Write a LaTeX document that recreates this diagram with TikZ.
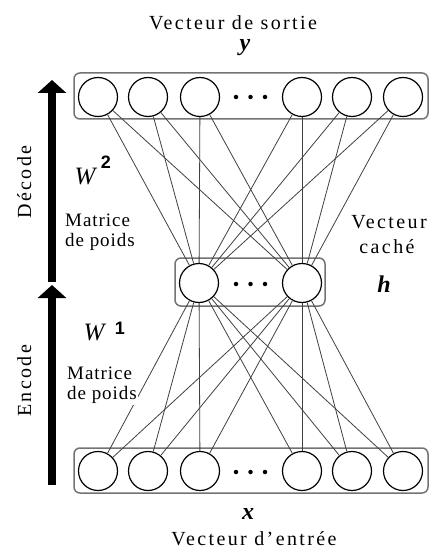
\documentclass[tikz,border=0pt]{standalone}
\usepackage{fontspec}
\setmainfont{Liberation Serif}
\newfontfamily\lsfont[LetterSpace=12]{Liberation Serif}
\newfontfamily\mlsfont[LetterSpace=5]{Liberation Serif}
\newfontfamily\supfont{Liberation Sans}
\usetikzlibrary{arrows.meta}
\begin{document}
\begin{tikzpicture}[x=1pt,y=-1pt,
  neuron/.style={circle,draw=black,line width=1.2pt,minimum size=39pt,inner sep=0pt,fill=white},
  layerbox/.style={draw=black!55,line width=1.5pt,rounded corners=6pt,inner sep=0pt},
  conn/.style={draw=black!75,line width=0.8pt},
  dotc/.style={circle,fill=black,inner sep=0pt,minimum size=4.5pt},
  bigarrow/.style={line width=8pt,-{Triangle[width=28pt,length=13pt]}},
  spaced/.style={font=\fontsize{20}{24}\lsfont,inner sep=0.5pt,fill=white},
  matlbl/.style={font=\fontsize{19}{20}\mlsfont,inner sep=1pt,fill=white,align=left,anchor=north west},
  vecsym/.style={font=\fontsize{24}{28}\bfseries\itshape,inner sep=0pt,anchor=base},
  wlbl/.style={font=\fontsize{25}{30}\itshape,inner sep=1pt,fill=white,anchor=base},
  suplbl/.style={font=\fontsize{18}{20}\supfont\bfseries,inner sep=0.5pt,anchor=base}
]
\useasboundingbox (0,0) rectangle (432,548);

% layer boxes
\node[layerbox,minimum width=354pt,minimum height=46pt] (topbox) at (251,96) {};
\node[layerbox,minimum width=150pt,minimum height=48pt] (hidbox) at (250,282) {};
\node[layerbox,minimum width=354pt,minimum height=45pt] (botbox) at (251,470.5) {};

% neurons
\foreach \i/\x in {1/98,2/148,3/200,4/302,5/352,6/403} {
  \node[neuron] (t\i) at (\x,97) {};
  \node[neuron] (b\i) at (\x,471) {};
}
\node[neuron] (h1) at (199,283) {};
\node[neuron] (h2) at (302,283) {};

% connections
\foreach \i in {1,...,6} {
  \foreach \j in {1,2} {
    \draw[conn] (t\i) -- (h\j);
    \draw[conn] (h\j) -- (b\i);
  }
}

% dots
\foreach \y/\n in {97/t,284/h,472/b} {
  \node[dotc] (\n d1) at (236,\y) {};
  \node[dotc] (\n d2) at (250.5,\y) {};
  \node[dotc] (\n d3) at (265,\y) {};
}

% big arrows
\coordinate (decA) at (52,282); \coordinate (decB) at (52,80);
\coordinate (encA) at (52,485); \coordinate (encB) at (52,285);
\draw[bigarrow] (decA) -- (decB);
\draw[bigarrow] (encA) -- (encB);

% texts
\node[spaced,anchor=base] (outlbl) at (233,30) {Vecteur de sortie};
\node[vecsym] (ysym) at (245,51) {y};
\node[vecsym] (xsym) at (248,519) {x};
\node[spaced,anchor=base] (inlbl) at (254,545) {Vecteur d’entrée};

\node[spaced,anchor=base] (hidlbl1) at (389,228) {Vecteur};
\node[spaced,anchor=base] (hidlbl2) at (387,253) {caché};
\node[vecsym] (hsym) at (384,292) {h};

\node[spaced,anchor=base,rotate=90] (declbl) at (31,182) {Décode};
\node[spaced,anchor=base,rotate=90] (enclbl) at (31,381) {Encode};

\node[wlbl] (w2) at (85,184) {W};
\node[suplbl] (w2s) at (106,168) {2};
\node[matlbl] (m2) at (64,213) {Matrice\\de poids};

\node[wlbl] (w1) at (94,340) {W};
\node[suplbl] (w1s) at (120,334) {1};
\node[matlbl] (m1) at (66,366) {Matrice\\de poids};
\end{tikzpicture}
\end{document}
